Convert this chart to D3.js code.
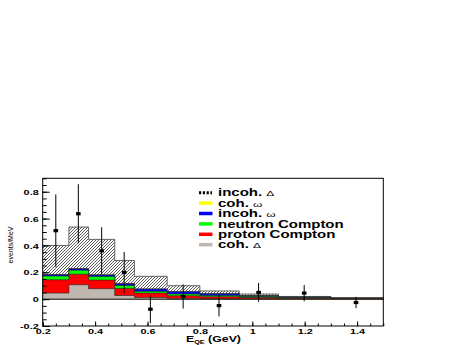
<!DOCTYPE html>
<html>
<head>
<meta charset="utf-8">
<script src="https://cdn.jsdelivr.net/npm/d3@7"></script>
<style>
  body { margin: 0; background: #fff; }
  svg { display: block; font-family: "Liberation Sans", Arial, sans-serif; }
</style>
</head>
<body>
<div id="chart"></div>
<script>
// bin edges in E_QE (GeV)
const binEdges = [0.2, 0.3, 0.375, 0.475, 0.55, 0.675, 0.8, 0.95, 1.1, 1.3, 1.5];

// stacked contributions (events/MeV), bottom to top
const cohDelta      = [0.045, 0.107, 0.078, 0.027, 0.012, 0.004, 0.002, 0.001, 0.001, 0.000];
const protonCompton = [0.099, 0.079, 0.064, 0.053, 0.033, 0.021, 0.016, 0.011, 0.006, 0.004];
const neutronCompton= [0.028, 0.030, 0.026, 0.022, 0.013, 0.013, 0.010, 0.007, 0.004, 0.002];
const incohOmega    = [0.010, 0.010, 0.012, 0.013, 0.017, 0.017, 0.012, 0.007, 0.004, 0.002];
const cohOmega      = [0.002, 0.002, 0.002, 0.002, 0.001, 0.001, 0.001, 0.001, 0.001, 0.000];
const incohDelta    = [0.216, 0.309, 0.263, 0.171, 0.094, 0.044, 0.020, 0.011, 0.004, 0.002];

// data points
const pointX   = [0.25, 0.336, 0.425, 0.511, 0.611, 0.736, 0.873, 1.024, 1.198, 1.396];
const pointY   = [0.51, 0.636, 0.36, 0.198, -0.075, 0.02, -0.048, 0.05, 0.045, -0.025];
const pointErr = [0.27, 0.22, 0.175, 0.153, 0.105, 0.09, 0.08, 0.07, 0.06, 0.042];

const xMajor = [0.2, 0.4, 0.6, 0.8, 1.0, 1.2, 1.4];
const yMajor = [-0.2, 0, 0.2, 0.4, 0.6, 0.8];

const seriesKeys = ['cohDelta', 'protonCompton', 'neutronCompton', 'incohOmega', 'cohOmega', 'incohDelta'];
const seriesColor = {
    cohDelta: '#c0b8b0',
    protonCompton: '#ff0000',
    neutronCompton: '#00ff00',
    incohOmega: '#0000ff',
    cohOmega: '#ffff00',
    incohDelta: 'url(#hatch)'
};
const legendItems = [
    { key: 'incohDelta', name: 'incoh. ', sym: 'Δ' },
    { key: 'cohOmega', name: 'coh. ', sym: 'ω' },
    { key: 'incohOmega', name: 'incoh. ', sym: 'ω' },
    { key: 'neutronCompton', name: 'neutron Compton', sym: '' },
    { key: 'protonCompton', name: 'proton Compton', sym: '' },
    { key: 'cohDelta', name: 'coh. ', sym: 'Δ' }
];

const W = 460, H = 345;
const SX = 1.45; // text is stretched horizontally in the original

const svg = d3.select('#chart').append('svg').attr('width', W).attr('height', H);

const defs = svg.append('defs');
const pat = defs.append('pattern')
    .attr('id', 'hatch')
    .attr('patternUnits', 'userSpaceOnUse')
    .attr('width', 3).attr('height', 3);
pat.append('rect').attr('width', 3).attr('height', 3).attr('fill', '#fff');
pat.append('path').attr('d', 'M-1,1 l2,-2 M0,3 l3,-3 M2,4 l2,-2')
    .attr('stroke', '#333').attr('stroke-width', 0.8);

const x = d3.scaleLinear().domain([0.2, 1.5]).range([42.7, 383.3]);
const y = d3.scaleLinear().domain([-0.2, 0.9]).range([326, 178.3]);

// stack table
const rows = binEdges.slice(0, -1).map((e, i) => ({
    lo: e, hi: binEdges[i + 1],
    cohDelta: cohDelta[i], protonCompton: protonCompton[i], neutronCompton: neutronCompton[i],
    incohOmega: incohOmega[i], cohOmega: cohOmega[i], incohDelta: incohDelta[i]
}));
const stacked = d3.stack().keys(seriesKeys)(rows);

const stepPts = (layer) => {
    let pts = layer.map(d => ({ x: d.data.lo, y0: 0, y1: d[1] }));
    let last = layer[layer.length - 1];
    pts.push({ x: last.data.hi, y0: 0, y1: last[1] });
    return pts;
};

const area = d3.area().curve(d3.curveStepAfter)
    .x(d => x(d.x)).y0(d => y(d.y0)).y1(d => y(d.y1));
const topLine = d3.line().curve(d3.curveStepAfter)
    .x(d => x(d.x)).y(d => y(d.y1));

const plot = svg.append('g');

// hatched total first, then each colored stack level drawn over it
const order = ['incohDelta', 'cohOmega', 'incohOmega', 'neutronCompton', 'protonCompton', 'cohDelta'];
order.forEach(k => {
    let pts = stepPts(stacked.find(s => s.key === k));
    plot.append('path')
        .attr('d', area(pts))
        .attr('fill', seriesColor[k])
        .attr('stroke', 'none');
    plot.append('path')
        .attr('d', topLine(pts))
        .attr('fill', 'none')
        .attr('stroke', k === 'incohDelta' ? '#555' : '#222')
        .attr('stroke-width', k === 'incohDelta' ? 0.9 : 0.6);
});

// baseline at zero
plot.append('line')
    .attr('x1', x(0.2)).attr('x2', x(1.5))
    .attr('y1', y(0)).attr('y2', y(0))
    .attr('stroke', '#222').attr('stroke-width', 1);

// data points with error bars
const pts = pointX.map((v, i) => ({ x: v, y: pointY[i], e: pointErr[i] }));
const pg = svg.append('g');
pg.selectAll('line.err').data(pts).enter().append('line')
    .attr('class', 'err')
    .attr('x1', d => x(d.x)).attr('x2', d => x(d.x))
    .attr('y1', d => y(d.y - d.e)).attr('y2', d => y(d.y + d.e))
    .attr('stroke', '#000').attr('stroke-width', 1);
pg.selectAll('rect.pt').data(pts).enter().append('rect')
    .attr('class', 'pt')
    .attr('x', d => x(d.x) - 2.3).attr('y', d => y(d.y) - 1.6)
    .attr('width', 4.6).attr('height', 3.2)
    .attr('fill', '#000');

// frame
svg.append('rect')
    .attr('x', x(0.2)).attr('y', y(0.9))
    .attr('width', x(1.5) - x(0.2)).attr('height', y(-0.2) - y(0.9))
    .attr('fill', 'none').attr('stroke', '#000').attr('stroke-width', 1);

const fmt = d => String(+d.toFixed(2));

// x axis
const xMinor = d3.range(0.2, 1.5001, 0.05).map(v => +v.toFixed(2));
const xAxisG = svg.append('g').attr('transform', `translate(0,${y(-0.2)})`);
xAxisG.call(d3.axisBottom(x).tickValues(xMinor).tickSizeInner(-2.5).tickSizeOuter(0).tickFormat(''));
xAxisG.call(g => g.select('.domain').remove());
const xAxisMaj = svg.append('g').attr('transform', `translate(0,${y(-0.2)})`);
xAxisMaj.call(d3.axisBottom(x).tickValues(xMajor).tickSizeInner(-4.5).tickSizeOuter(0).tickFormat(fmt));
xAxisMaj.call(g => g.select('.domain').remove());
xAxisMaj.selectAll('text')
    .attr('y', 8.5).attr('dy', 0)
    .attr('transform', `scale(${SX},1)`)
    .style('font-size', '7.5px').style('font-weight', 'bold')
    .style('font-family', '"Liberation Sans", Arial, sans-serif');

// y axis
const yMinor = d3.range(-0.2, 0.9001, 0.05).map(v => +v.toFixed(2));
const yAxisG = svg.append('g').attr('transform', `translate(${x(0.2)},0)`);
yAxisG.call(d3.axisLeft(y).tickValues(yMinor).tickSizeInner(-4).tickSizeOuter(0).tickFormat(''));
yAxisG.call(g => g.select('.domain').remove());
const yAxisMaj = svg.append('g').attr('transform', `translate(${x(0.2)},0)`);
yAxisMaj.call(d3.axisLeft(y).tickValues(yMajor).tickSizeInner(-7).tickSizeOuter(0).tickFormat(fmt));
yAxisMaj.call(g => g.select('.domain').remove());
yAxisMaj.selectAll('text')
    .attr('x', -4 / SX).attr('dy', '0.35em')
    .attr('transform', `scale(${SX},1)`)
    .style('font-size', '7.5px').style('font-weight', 'bold')
    .style('font-family', '"Liberation Sans", Arial, sans-serif');
svg.selectAll('.tick line').attr('stroke', '#000');

// axis titles
const xt = svg.append('text')
    .attr('transform', `translate(186,341.5) scale(${SX},1)`)
    .style('font-size', '8.5px').style('font-weight', 'bold');
xt.append('tspan').text('E');
xt.append('tspan').attr('dy', 2).style('font-size', '5px').text('QE');
xt.append('tspan').attr('dy', -2).text(' (GeV)');

svg.append('text')
    .attr('transform', 'translate(13,245) rotate(-90)')
    .attr('text-anchor', 'middle')
    .style('font-size', '7px')
    .text('events/MeV');

// legend
const leg = svg.append('g').attr('transform', 'translate(199,192.7)');
legendItems.forEach((d, i) => {
    let g = leg.append('g').attr('transform', `translate(0,${i * 10.4})`);
    if (d.key === 'incohDelta') {
        g.append('line').attr('x1', 0).attr('x2', 13).attr('y1', 0).attr('y2', 0)
            .attr('stroke', '#000').attr('stroke-width', 3).attr('stroke-dasharray', '2.2,1.6');
    } else {
        g.append('line').attr('x1', 0).attr('x2', 13.5).attr('y1', 0).attr('y2', 0)
            .attr('stroke', seriesColor[d.key]).attr('stroke-width', 3.5);
    }
    let t = g.append('text')
        .attr('transform', `translate(19,3.7) scale(1.5,1)`)
        .style('font-size', '10px').style('font-weight', 'bold');
    t.append('tspan').text(d.name);
    if (d.sym) t.append('tspan').style('font-weight', 'normal').style('font-size', '8px').text(d.sym);
});
</script>
</body>
</html>
